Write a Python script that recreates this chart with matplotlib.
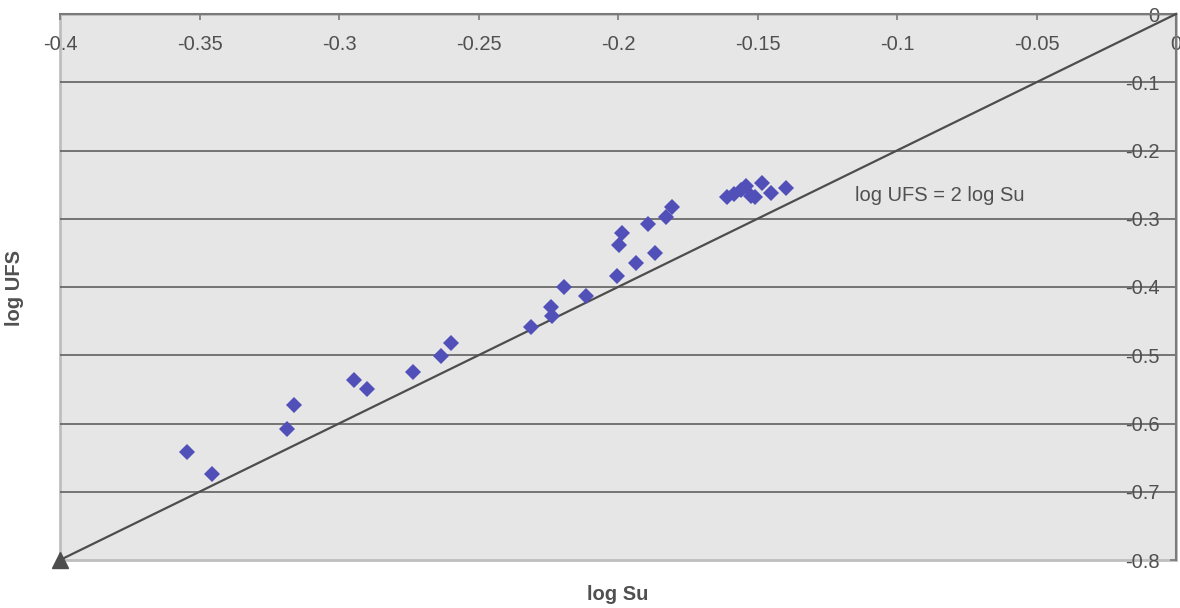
import matplotlib
matplotlib.use("Agg")
import matplotlib.pyplot as plt

plt.rcParams['font.family'] = ['Liberation Sans', 'DejaVu Sans']

# ---- data ----
log_su = [-0.3546, -0.3454, -0.3187, -0.3161, -0.2945, -0.2901, -0.2734, -0.2635,
          -0.2600, -0.2312, -0.2241, -0.2235, -0.2192, -0.2116, -0.2005, -0.1996,
          -0.1987, -0.1935, -0.1891, -0.1867, -0.1829, -0.1808, -0.1609, -0.1584,
          -0.1559, -0.1541, -0.1523, -0.1509, -0.1484, -0.1452, -0.1398]
log_ufs = [-0.6413, -0.6740, -0.6081, -0.5729, -0.5363, -0.5495, -0.5241, -0.5011,
           -0.4825, -0.4581, -0.4289, -0.4425, -0.3996, -0.4132, -0.3834, -0.3385,
           -0.3213, -0.3653, -0.3081, -0.3497, -0.2970, -0.2823, -0.2681, -0.2637,
           -0.2579, -0.2520, -0.2667, -0.2681, -0.2476, -0.2623, -0.2549]

line_su = [-0.4, 0.0]
line_ufs = [-0.8, 0.0]

x_ticks = [-0.4, -0.35, -0.3, -0.25, -0.2, -0.15, -0.1, -0.05, 0.0]
x_tick_labels = ['-0.4', '-0.35', '-0.3', '-0.25', '-0.2', '-0.15', '-0.1', '-0.05', '0']
y_ticks = [0.0, -0.1, -0.2, -0.3, -0.4, -0.5, -0.6, -0.7, -0.8]
y_tick_labels = ['0', '-0.1', '-0.2', '-0.3', '-0.4', '-0.5', '-0.6', '-0.7', '-0.8']

annotation = 'log UFS = 2 log Su'
x_title = 'log Su'
y_title = 'log UFS'

# ---- figure ----
W, H = 1180, 608
fig = plt.figure(figsize=(W / 100, H / 100), dpi=100)
ax = fig.add_axes([60 / W, 1 - 560 / H, 1116 / W, 546 / H])

txt_color = '#505050'
axis_color = '#7a7a7a'
fs = 14.5

ax.set_xlim(-0.4, 0)
ax.set_ylim(-0.8, 0)
ax.set_facecolor('#E6E6E6')
ax.patch.set_edgecolor('#BEBEBE')
ax.patch.set_linewidth(2)

ax.spines['bottom'].set_position(('data', 0))
ax.spines['left'].set_position(('data', 0))
ax.spines['top'].set_visible(False)
ax.spines['right'].set_visible(False)
for s in ('bottom', 'left'):
    ax.spines[s].set_color(axis_color)
    ax.spines[s].set_linewidth(1.5)

ax.set_xticks(x_ticks)
ax.set_xticklabels(x_tick_labels)
ax.set_yticks(y_ticks)
ax.set_yticklabels(y_tick_labels)
ax.tick_params(axis='x', direction='out', length=4, width=1.2, color=axis_color,
               labelcolor=txt_color, labelsize=fs, pad=11)
ax.tick_params(axis='y', direction='out', length=4, width=1.2, color=axis_color,
               labelcolor=txt_color, labelsize=fs, pad=8)

ax.yaxis.grid(True, color='#555555', linewidth=1.1)
ax.set_axisbelow(True)
for i, t in enumerate(ax.yaxis.get_major_ticks()):
    if y_ticks[i] in (0.0, -0.8):
        t.gridline.set_visible(False)

ax.plot(line_su, line_ufs, color='#4D4D4D', linewidth=1.6, marker='^',
        markevery=[0], markersize=11, clip_on=False, zorder=3)
ax.plot(log_su, log_ufs, linestyle='none', marker='D', color='#5050B8',
        markersize=8.6, markeredgewidth=0, zorder=4)

ax.text(-0.1151, -0.266, annotation, fontsize=fs, color=txt_color,
        ha='left', va='center')

fig.text(618 / W, 1 - 594 / H, x_title, fontsize=fs, fontweight='bold',
         color=txt_color, ha='center', va='center')
fig.text(14 / W, 1 - 288 / H, y_title, fontsize=fs, fontweight='bold',
         color=txt_color, ha='center', va='center', rotation=90)

fig.savefig('out.png', dpi=100)
